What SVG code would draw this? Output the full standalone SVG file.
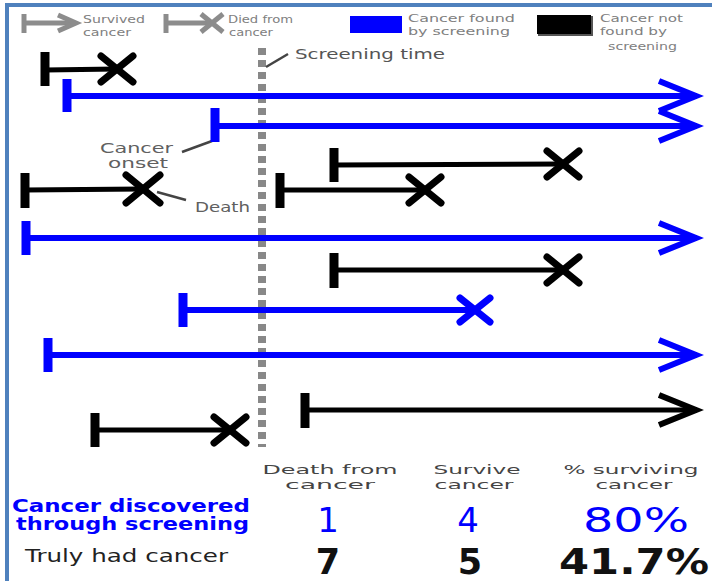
<svg xmlns="http://www.w3.org/2000/svg" width="712" height="581" viewBox="0 0 712 581">
<style>
text{font-family:"DejaVu Sans","Liberation Sans",sans-serif}
.bl{stroke:#0000ff;fill:none;stroke-width:6}
.bk{stroke:#000;fill:none;stroke-width:5}
.bar{stroke-width:9}
.x{stroke-width:7;stroke-linecap:round}
.ar{stroke-width:6;stroke-linejoin:miter}
.lg{stroke:#8c8c8c;fill:none;stroke-width:5}
.lt{font-size:11px;fill:#808080}
.nt{font-size:14px;fill:#606060}
.hd{font-size:13px;fill:#444;text-anchor:middle}
.nb{font-size:34px;fill:#0000ff;text-anchor:middle}
.nk{font-size:35px;fill:#111;text-anchor:middle;font-weight:bold}
.ld{stroke:#444;stroke-width:2.5;fill:none}
.rl{font-size:17px;font-weight:bold;fill:#0000ff}
</style>
<g id="frame">
<rect x="5" y="3" width="707" height="4" fill="#4f81bd"/>
<rect x="5" y="3" width="4" height="578" fill="#4f81bd"/>
</g>
<g id="legend">
<line class="lg" x1="24" y1="14" x2="24" y2="33" stroke-width="7"/>
<line class="lg" x1="24" y1="23" x2="74" y2="23"/>
<polyline class="lg" points="58,15 76,23 58,31"/>
<text class="lt" x="83" y="23" textLength="62" lengthAdjust="spacingAndGlyphs">Survived</text>
<text class="lt" x="83" y="36" textLength="48" lengthAdjust="spacingAndGlyphs">cancer</text>
<line class="lg" x1="166" y1="14" x2="166" y2="33" stroke-width="7"/>
<line class="lg" x1="166" y1="23" x2="210" y2="23"/>
<line class="lg" x1="201" y1="14" x2="223" y2="32"/>
<line class="lg" x1="201" y1="32" x2="223" y2="14"/>
<text class="lt" x="228" y="23" textLength="65" lengthAdjust="spacingAndGlyphs">Died from</text>
<text class="lt" x="229" y="36" textLength="44" lengthAdjust="spacingAndGlyphs">cancer</text>
<rect x="350" y="16" width="52" height="17" fill="#0000ff"/>
<text class="lt" x="408" y="22" textLength="107" lengthAdjust="spacingAndGlyphs">Cancer found</text>
<text class="lt" x="408" y="35" textLength="102" lengthAdjust="spacingAndGlyphs">by screening</text>
<rect x="538" y="16" width="55" height="20" fill="#555"/>
<rect x="537" y="15" width="54" height="19" fill="#000"/>
<text class="lt" x="600" y="22" textLength="83" lengthAdjust="spacingAndGlyphs">Cancer not</text>
<text class="lt" x="600" y="35" textLength="67" lengthAdjust="spacingAndGlyphs">found by</text>
<text class="lt" x="608" y="50" textLength="69" lengthAdjust="spacingAndGlyphs">screening</text>
</g>
<g id="screening-time">
<line x1="262" y1="48" x2="262" y2="447" stroke="#888" stroke-width="8" stroke-dasharray="7,5"/>
<text x="295" y="59" font-size="14" fill="#555" textLength="150" lengthAdjust="spacingAndGlyphs">Screening time</text>
</g>
<g id="connectors">
<line class="ld" x1="266" y1="67" x2="288" y2="54"/>
<line class="ld" x1="182" y1="152" x2="212" y2="141"/>
<line class="ld" x1="157" y1="192" x2="186" y2="200"/>
</g>
<g id="labels">
<text class="nt" x="100" y="153" textLength="73" lengthAdjust="spacingAndGlyphs">Cancer</text>
<text class="nt" x="108" y="168" textLength="60" lengthAdjust="spacingAndGlyphs">onset</text>
<text class="nt" x="195" y="212" textLength="55" lengthAdjust="spacingAndGlyphs">Death</text>
</g>
<g id="r1"><line class="bk bar" x1="45" y1="52" x2="45" y2="86"/><line class="bk" x1="45" y1="70" x2="117" y2="69"/><line class="bk x" x1="101" y1="56" x2="133" y2="82"/><line class="bk x" x1="101" y1="82" x2="133" y2="56"/></g>
<g id="r2"><line class="bl bar" x1="67" y1="79" x2="67" y2="112"/><line class="bl" x1="67" y1="96" x2="694" y2="96"/><polyline class="bl ar" points="659,81 696,96 659,111"/></g>
<g id="r3"><line class="bl bar" x1="215" y1="108" x2="215" y2="142"/><line class="bl" x1="215" y1="126" x2="694" y2="126"/><polyline class="bl ar" points="659,111 696,126 659,141"/></g>
<g id="r4"><line class="bk bar" x1="334" y1="148" x2="334" y2="182"/><line class="bk" x1="334" y1="165" x2="563" y2="164"/><line class="bk x" x1="547" y1="151" x2="579" y2="177"/><line class="bk x" x1="547" y1="177" x2="579" y2="151"/></g>
<g id="r5"><line class="bk bar" x1="25" y1="173" x2="25" y2="208"/><line class="bk" x1="25" y1="190" x2="143" y2="189"/><line class="bk x" x1="126" y1="175" x2="160" y2="203"/><line class="bk x" x1="126" y1="203" x2="160" y2="175"/></g>
<g id="r6"><line class="bk bar" x1="280" y1="173" x2="280" y2="208"/><line class="bk" x1="280" y1="190" x2="425" y2="190"/><line class="bk x" x1="409" y1="177" x2="441" y2="203"/><line class="bk x" x1="409" y1="203" x2="441" y2="177"/></g>
<g id="r7"><line class="bl bar" x1="26" y1="221" x2="26" y2="255"/><line class="bl" x1="26" y1="238" x2="694" y2="238"/><polyline class="bl ar" points="659,223 696,238 659,253"/></g>
<g id="r8"><line class="bk bar" x1="334" y1="253" x2="334" y2="288"/><line class="bk" x1="334" y1="270" x2="563" y2="270"/><line class="bk x" x1="547" y1="257" x2="579" y2="283"/><line class="bk x" x1="547" y1="283" x2="579" y2="257"/></g>
<g id="r9"><line class="bl bar" x1="183" y1="293" x2="183" y2="327"/><line class="bl" x1="183" y1="310" x2="475" y2="310"/><line class="bl x" x1="460" y1="298" x2="490" y2="322"/><line class="bl x" x1="460" y1="322" x2="490" y2="298"/></g>
<g id="r10"><line class="bl bar" x1="48" y1="338" x2="48" y2="372"/><line class="bl" x1="48" y1="355" x2="694" y2="355"/><polyline class="bl ar" points="659,340 696,355 659,370"/></g>
<g id="r11"><line class="bk bar" x1="305" y1="393" x2="305" y2="428"/><line class="bk" x1="305" y1="410" x2="694" y2="410"/><polyline class="bk ar" points="659,395 696,410 659,425"/></g>
<g id="r12"><line class="bk bar" x1="95" y1="413" x2="95" y2="447"/><line class="bk" x1="95" y1="430" x2="230" y2="430"/><line class="bk x" x1="214" y1="417" x2="246" y2="443"/><line class="bk x" x1="214" y1="443" x2="246" y2="417"/></g>
<g id="table">
<text class="hd" x="330" y="474" textLength="135" lengthAdjust="spacingAndGlyphs">Death from</text>
<text class="hd" x="330" y="489" textLength="90" lengthAdjust="spacingAndGlyphs">cancer</text>
<text class="hd" x="477" y="474" textLength="87" lengthAdjust="spacingAndGlyphs">Survive</text>
<text class="hd" x="474" y="489" textLength="79" lengthAdjust="spacingAndGlyphs">cancer</text>
<text class="hd" x="631" y="474" textLength="135" lengthAdjust="spacingAndGlyphs">% surviving</text>
<text class="hd" x="634" y="489" textLength="77" lengthAdjust="spacingAndGlyphs">cancer</text>
<text class="rl" x="12" y="512" textLength="238" lengthAdjust="spacingAndGlyphs">Cancer discovered</text>
<text class="rl" x="16" y="530" textLength="233" lengthAdjust="spacingAndGlyphs">through screening</text>
<text x="25" y="562" font-size="17" fill="#222" textLength="203" lengthAdjust="spacingAndGlyphs">Truly had cancer</text>
<text class="nb" x="328" y="532">1</text>
<text class="nb" x="468" y="532">4</text>
<text class="nb" x="636" y="532" textLength="106" lengthAdjust="spacingAndGlyphs">80%</text>
<text class="nk" x="328" y="574">7</text>
<text class="nk" x="470" y="574">5</text>
<text class="nk" x="634" y="574" textLength="150" lengthAdjust="spacingAndGlyphs">41.7%</text>
</g>
</svg>
